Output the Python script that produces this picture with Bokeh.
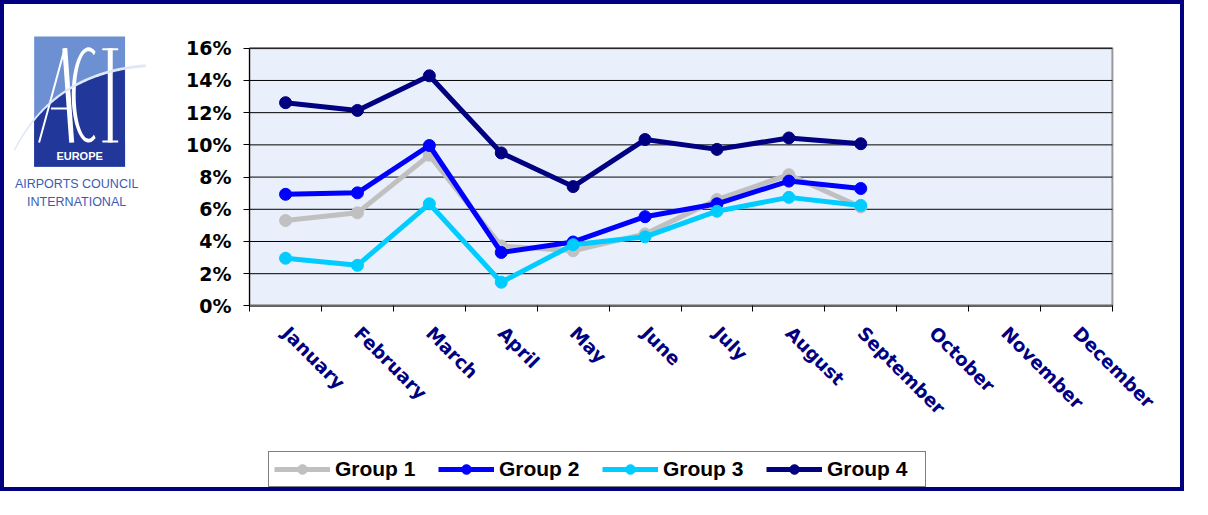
import numpy as np
from bokeh.plotting import figure
from bokeh.models import (Range1d, FixedTicker, PrintfTickFormatter, Legend, LegendItem,
                          Label, BoxAnnotation, PolyAnnotation)
from bokeh.embed import file_html
from bokeh.resources import INLINE

months = ["January", "February", "March", "April", "May", "June", "July",
          "August", "September", "October", "November", "December"]
reported = months[:9]
group1 = [5.30, 5.78, 9.36, 3.72, 3.42, 4.47, 6.60, 8.15, 6.14]
group2 = [6.93, 7.02, 9.96, 3.32, 3.97, 5.54, 6.34, 7.75, 7.29]
group3 = [2.96, 2.52, 6.34, 1.47, 3.80, 4.29, 5.88, 6.74, 6.24]
group4 = [12.62, 12.14, 14.29, 9.50, 7.41, 10.33, 9.72, 10.43, 10.07]
series_names = ["Group 1", "Group 2", "Group 3", "Group 4"]
series_colors = ["#c0c0c0", "#0000ff", "#00ccff", "#000080"]
y_ticks = [0, 2, 4, 6, 8, 10, 12, 14, 16]
y_max = 16
logo_texts = ["EUROPE", "AIRPORTS COUNCIL", "INTERNATIONAL"]

# ---- layout geometry (pixels) ----
W, H = 1184, 491
REF_W, REF_H = 1198, 505


def cx(px):
    return (px - 5) * W / REF_W


def cy(py):
    return (py - 5) * H / REF_H


def scr(px, py):
    return cx(px), H - cy(py)


plot_left, plot_right = cx(253), cx(1126)
plot_top, plot_bottom = cy(50), cy(315)
ux = (plot_right - plot_left) / len(months)
uy = (plot_bottom - plot_top) / y_max

p = figure(width=W, height=H, output_backend="svg", toolbar_location=None,
           x_range=Range1d(-plot_left / ux, len(months) + (W - plot_right) / ux),
           y_range=Range1d(-(H - plot_bottom) / uy, y_max + plot_top / uy),
           min_border=0)
p.styles = {"border": "4px solid #000080"}
p.background_fill_color = "white"
p.border_fill_color = "white"
p.outline_line_color = None
p.xgrid.visible = False
p.ygrid.visible = False

# plot area background and grid
p.quad(left=[0], right=[len(months)], bottom=[0], top=[y_max], fill_color="#e9f0fb",
       line_color="#999999", line_width=2, level="image")
p.segment(x0=[0] * len(y_ticks), x1=[len(months)] * len(y_ticks), y0=y_ticks, y1=y_ticks,
          line_color="black", line_width=1, level="underlay")

# axes
centers = [i + 0.5 for i in range(len(months))]
xa = p.xaxis[0]
xa.fixed_location = 0
xa.bounds = (0, len(months))
xa.ticker = FixedTicker(ticks=centers, minor_ticks=list(range(len(months) + 1)))
xa.major_label_overrides = {c: m for c, m in zip(centers, months)}
xa.major_tick_line_color = None
xa.minor_tick_out = 6
xa.minor_tick_in = 0
xa.minor_tick_line_color = "black"
xa.axis_line_color = "#666666"
xa.axis_line_width = 2
xa.major_label_orientation = -0.785
xa.major_label_text_color = "#000080"
xa.major_label_text_font = "DejaVu Sans"
xa.major_label_text_font_style = "bold"
xa.major_label_text_font_size = "18.5px"
xa.major_label_standoff = 18

ya = p.yaxis[0]
ya.fixed_location = 0
ya.bounds = (0, y_max)
ya.ticker = FixedTicker(ticks=y_ticks, minor_ticks=[])
ya.formatter = PrintfTickFormatter(format="%d%%")
ya.major_tick_out = 6
ya.major_tick_in = 0
ya.axis_line_color = "black"
ya.major_label_text_font = "DejaVu Sans"
ya.major_label_text_font_style = "bold"
ya.major_label_text_font_size = "19px"
ya.major_label_text_color = "black"
ya.major_label_standoff = 12

# series
xs = [months.index(m) + 0.5 for m in reported]
items = []
for name, vals, col in zip(series_names, [group1, group2, group3, group4], series_colors):
    l = p.line(xs, vals, line_color=col, line_width=5)
    c = p.scatter(xs, vals, size=12, fill_color=col, line_color=col)
    items.append(LegendItem(label=name, renderers=[l, c]))

legend = Legend(items=items, orientation="horizontal", location=scr(272, 502))
legend.border_line_color = "black"
legend.border_line_width = 1
legend.background_fill_color = "white"
legend.label_text_color = "black"
legend.label_text_font = "Liberation Sans"
legend.label_text_font_style = "bold"
legend.label_text_font_size = "21px"
legend.label_width = 93
legend.glyph_width = 56
legend.glyph_height = 24
legend.label_standoff = 5
legend.spacing = 10
legend.padding = 5
legend.margin = 0
p.add_layout(legend)

# ---- ACI logo (screen-unit annotations) ----
def poly(points, color):
    pts = [scr(a, b) for a, b in points]
    p.add_layout(PolyAnnotation(xs=[q[0] for q in pts], ys=[q[1] for q in pts],
                                xs_units="screen", ys_units="screen",
                                fill_color=color, fill_alpha=1, line_color=None))


def stroke(p1, p2, w, color="white"):
    p1, p2 = np.array(p1, float), np.array(p2, float)
    d = (p2 - p1) / np.linalg.norm(p2 - p1)
    n = np.array([-d[1], d[0]]) * w / 2
    poly([p1 + n, p2 + n, p2 - n, p1 - n], color)


bl, bt = scr(35, 38)
br, bb = scr(127, 172)
p.add_layout(BoxAnnotation(left=bl, right=br, top=bt, bottom=bb,
                           left_units="screen", right_units="screen",
                           top_units="screen", bottom_units="screen",
                           fill_color="#6d90d3", fill_alpha=1, line_color=None))
t = np.linspace(0, 1, 120)
P0, P1, P2 = np.array([15, 155]), np.array([55, 75]), np.array([148, 68])
curve = ((1 - t)[:, None] ** 2) * P0 + (2 * (1 - t) * t)[:, None] * P1 + (t[:, None] ** 2) * P2
inside = curve[(curve[:, 0] >= 35) & (curve[:, 0] <= 127)]
poly(list(map(tuple, inside)) + [(127, 172), (35, 172)], "#22379a")
# letters A C I
stroke((40, 147), (66, 50), 2)
stroke((66, 50), (73, 147), 5)
stroke((52, 112), (70, 112), 2)
ang = np.linspace(np.radians(65), np.radians(295), 50)
outer = [(90 + 17 * np.cos(a), 98 - 49 * np.sin(a)) for a in ang]
inner = [(90 + 13 * np.cos(a), 98 - 45 * np.sin(a)) for a in ang[::-1]]
poly(outer + inner, "white")
stroke((112, 50), (112, 147), 5)
stroke((104, 51), (120, 51), 2)
stroke((104, 146), (120, 146), 2)
# swoosh
sw_top = [(a, b - 1.5) for a, b in curve]
sw_bot = [(a, b + 1.5) for a, b in curve[::-1]]
poly(sw_top + sw_bot, "#dfe8f8")
for (tx, ty), txt, col, sty, fs in [((81, 161), logo_texts[0], "white", "bold", "11px"),
                                     ((78, 190), logo_texts[1], "#3a5cb5", "normal", "12.5px"),
                                     ((78, 208), logo_texts[2], "#3a5cb5", "normal", "12.5px")]:
    sx, sy = scr(tx, ty)
    p.add_layout(Label(x=sx, y=sy, x_units="screen", y_units="screen", text=txt,
                       text_color=col, text_font="Liberation Sans", text_font_style=sty,
                       text_font_size=fs, text_align="center", text_baseline="middle"))

open("out.html", "w").write(file_html(p, INLINE))
